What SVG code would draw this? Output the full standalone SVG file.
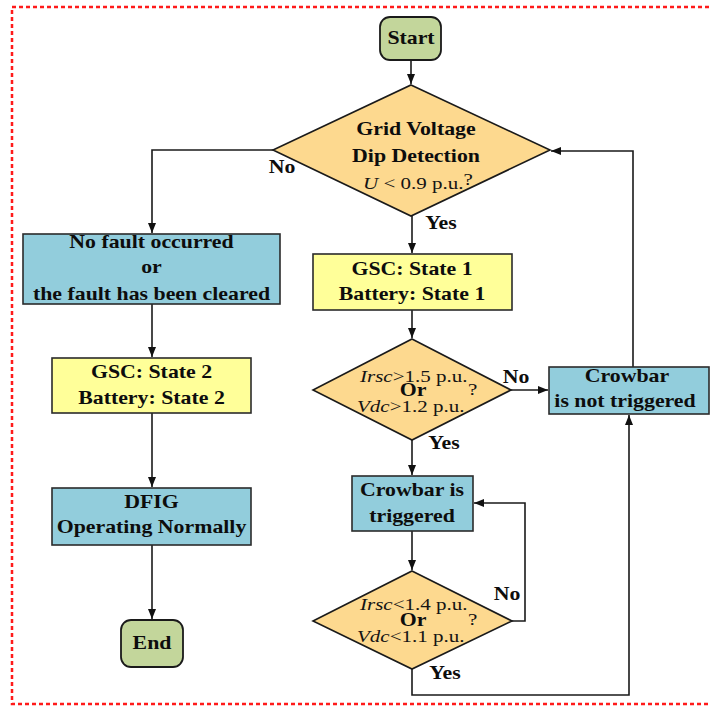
<svg xmlns="http://www.w3.org/2000/svg" width="711" height="707" viewBox="0 0 711 707">
<defs>
<marker id="ah" viewBox="0 0 10 10" refX="10" refY="5" markerWidth="10" markerHeight="10" markerUnits="userSpaceOnUse" orient="auto">
<path d="M0,1 L10,5 L0,9 Z" fill="#111"/>
</marker>
<style>
.t{font-family:"Liberation Serif","Times New Roman",serif;font-size:18.5px;font-weight:bold;fill:#0d0d0d;text-anchor:middle}
.n{font-family:"Liberation Serif","Times New Roman",serif;font-size:17.5px;font-weight:normal;fill:#141414}
.i{font-style:italic}
.blue{fill:#92cddc;stroke:#2b2b2b;stroke-width:1.6}
.yel{fill:#ffff99;stroke:#2b2b2b;stroke-width:1.6}
.dia{fill:#fdd98f;stroke:#1a1a1a;stroke-width:1.6}
.term{fill:#c3d69b;stroke:#1a1a1a;stroke-width:1.8}
.c{fill:none;stroke:#1a1a1a;stroke-width:1.6}
</style>
</defs>
<rect x="0" y="0" width="711" height="707" fill="#fff"/>
<rect x="12" y="7" width="710" height="697" fill="none" stroke="#ff1a1a" stroke-width="2.5" stroke-dasharray="4,3"/>

<g id="connectors">
<path class="c" d="M411,60 V84" marker-end="url(#ah)"/>
<path class="c" d="M273,150 H152 V233" marker-end="url(#ah)"/>
<path class="c" d="M152,304 V357" marker-end="url(#ah)"/>
<path class="c" d="M152,413 V487" marker-end="url(#ah)"/>
<path class="c" d="M152,545 V619" marker-end="url(#ah)"/>
<path class="c" d="M412,216 V253" marker-end="url(#ah)"/>
<path class="c" d="M412,310 V338" marker-end="url(#ah)"/>
<path class="c" d="M511,390 H548" marker-end="url(#ah)"/>
<path class="c" d="M633,367 V151 H551" marker-end="url(#ah)"/>
<path class="c" d="M412,440 V475" marker-end="url(#ah)"/>
<path class="c" d="M412,531 V570" marker-end="url(#ah)"/>
<path class="c" d="M512,621 H525 V503 H474" marker-end="url(#ah)"/>
<path class="c" d="M412,669 V695 H629 V415" marker-end="url(#ah)"/>
<text class="t" transform="translate(282,173) scale(1.18,1)">No</text>
<text class="t" transform="translate(441,229) scale(1.18,1)">Yes</text>
<text class="t" transform="translate(516,383) scale(1.18,1)">No</text>
<text class="t" transform="translate(444,449) scale(1.18,1)">Yes</text>
<text class="t" transform="translate(507,600) scale(1.18,1)">No</text>
<text class="t" transform="translate(445,679) scale(1.18,1)">Yes</text>
</g>

<g id="start">
<rect class="term" x="380" y="17" width="61" height="43" rx="10"/>
<text class="t" transform="translate(411,44) scale(1.18,1)">Start</text>
</g>

<g id="dip-detection">
<polygon class="dia" points="411,85 550,150 411,216 273,150"/>
<text class="t" transform="translate(416,135) scale(1.18,1)">Grid Voltage</text>
<text class="t" transform="translate(416,162) scale(1.18,1)">Dip Detection</text>
<text class="n" transform="translate(363,189) scale(1.2,1)"><tspan class="i">U</tspan> &lt; 0.9 p.u.<tspan dy="-4">?</tspan></text>
</g>

<g id="no-fault">
<rect class="blue" x="23" y="234" width="257" height="70"/>
<text class="t" transform="translate(151.5,248) scale(1.18,1)">No fault occurred</text>
<text class="t" transform="translate(151.5,273) scale(1.18,1)">or</text>
<text class="t" transform="translate(151.5,300) scale(1.18,1)">the fault has been cleared</text>
</g>

<g id="gsc-state2">
<rect class="yel" x="52" y="358" width="199" height="55"/>
<text class="t" transform="translate(151.5,378) scale(1.18,1)">GSC: State 2</text>
<text class="t" transform="translate(151.5,404) scale(1.18,1)">Battery: State 2</text>
</g>

<g id="dfig-normal">
<rect class="blue" x="52" y="488" width="199" height="57"/>
<text class="t" transform="translate(151.5,508) scale(1.18,1)">DFIG</text>
<text class="t" transform="translate(151.5,533) scale(1.18,1)">Operating Normally</text>
</g>

<g id="end">
<rect class="term" x="121" y="620" width="62" height="47" rx="10"/>
<text class="t" transform="translate(152,649) scale(1.18,1)">End</text>
</g>

<g id="gsc-state1">
<rect class="yel" x="313" y="254" width="199" height="56"/>
<text class="t" transform="translate(412,275) scale(1.18,1)">GSC: State 1</text>
<text class="t" transform="translate(412,300) scale(1.18,1)">Battery: State 1</text>
</g>

<g id="check-trigger">
<polygon class="dia" points="412,339 511,390 412,440 313,390"/>
<text class="n" transform="translate(360,382) scale(1.2,1)"><tspan class="i">Irsc</tspan>&gt;1.5 p.u.</text>
<text class="t" transform="translate(413,396) scale(1.18,1)">Or</text>
<text class="n" transform="translate(468,395) scale(1.2,1)">?</text>
<text class="n" transform="translate(357,412) scale(1.2,1)"><tspan class="i">Vdc</tspan>&gt;1.2 p.u.</text>
</g>

<g id="crowbar-not-triggered">
<rect class="blue" x="549" y="367" width="160" height="47"/>
<text class="t" transform="translate(627,382) scale(1.18,1)">Crowbar</text>
<text class="t" transform="translate(625,407) scale(1.18,1)">is not triggered</text>
</g>

<g id="crowbar-triggered">
<rect class="blue" x="352" y="476" width="121" height="55"/>
<text class="t" transform="translate(412,496) scale(1.18,1)">Crowbar is</text>
<text class="t" transform="translate(412,522) scale(1.18,1)">triggered</text>
</g>

<g id="check-release">
<polygon class="dia" points="412,571 512,621 412,669 313,621"/>
<text class="n" transform="translate(360,610) scale(1.2,1)"><tspan class="i">Irsc</tspan>&lt;1.4 p.u.</text>
<text class="t" transform="translate(413,626) scale(1.18,1)">Or</text>
<text class="n" transform="translate(468,625) scale(1.2,1)">?</text>
<text class="n" transform="translate(357,642) scale(1.2,1)"><tspan class="i">Vdc</tspan>&lt;1.1 p.u.</text>
</g>
</svg>
